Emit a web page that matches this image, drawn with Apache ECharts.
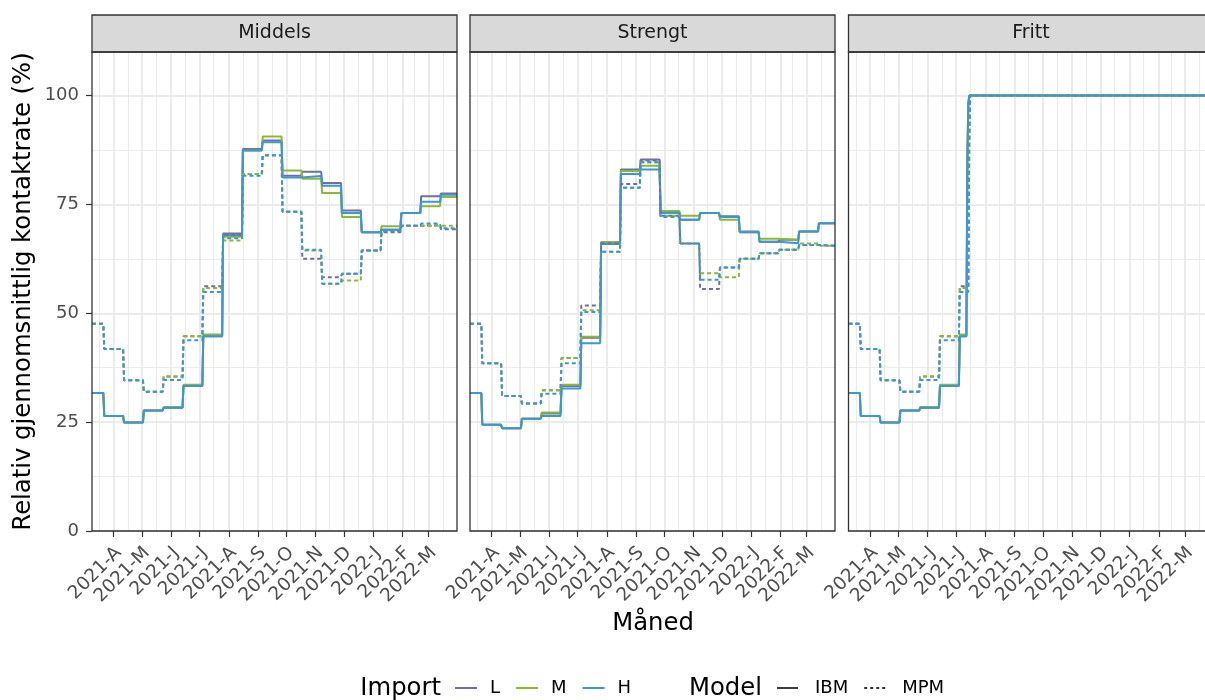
<!DOCTYPE html>
<html><head><meta charset="utf-8">
<script src="https://cdn.jsdelivr.net/npm/echarts@6/dist/echarts.min.js"></script>
<style>html,body{margin:0;padding:0;background:#fff}#c{width:1205px;height:700px}</style>
</head><body><div id="c"></div>
<script>
// ---------- data ----------
const panels = ['Middels', 'Strengt', 'Fritt'];
const imports = ['L', 'M', 'H'];
const models = ['IBM', 'MPM'];
const tickDates = ['2021-04-01','2021-05-01','2021-06-01','2021-07-01','2021-08-01','2021-09-01','2021-10-01','2021-11-01','2021-12-01','2022-01-01','2022-02-01','2022-03-01'];
const tickLabels = ['2021-A','2021-M','2021-J','2021-J','2021-A','2021-S','2021-O','2021-N','2021-D','2022-J','2022-F','2022-M'];
const minorDates = ['2021-03-17','2021-04-16','2021-05-16','2021-06-16','2021-07-16','2021-08-16','2021-09-16','2021-10-16','2021-11-16','2021-12-16','2022-01-16','2022-02-14','2022-03-16'];
const yTicks = [0, 25, 50, 75, 100];
const yMinor = 12.5;
const xStart = '2021-03-09';
const xEnd = '2022-03-31';

// start date of each constant period (value holds until the next start)
const segStart = ['2021-03-09','2021-03-22','2021-04-12','2021-05-03','2021-05-24','2021-06-14','2021-07-05','2021-07-26','2021-08-16','2021-09-06','2021-09-27','2021-10-18','2021-11-08','2021-11-29','2021-12-20','2022-01-10','2022-01-31','2022-02-21','2022-03-14'];

// Middels
const midIbmL = [31.7,26.4,24.9,27.7,28.3,33.3,44.7,68.3,87.7,89.7,81.6,82.5,79.9,73.6,68.6,69.2,73.0,76.9,77.5];
const midIbmM = [31.7,26.4,24.9,27.7,28.5,33.6,45.1,67.6,87.4,90.6,82.8,80.9,77.6,72.1,68.6,70.0,73.0,74.6,76.7];
const midIbmH = [31.7,26.4,24.9,27.7,28.3,33.3,44.7,68.0,87.4,89.3,81.2,81.5,79.3,73.0,68.6,69.2,73.0,75.6,77.2];
const midMpmL = [47.6,41.8,34.6,32.0,35.5,44.7,56.2,67.9,82.0,86.3,73.3,62.5,58.3,59.1,64.4,68.6,70.1,70.2,69.3];
const midMpmM = [47.6,41.8,34.6,32.0,35.5,44.7,55.8,66.7,82.0,86.3,73.3,64.4,56.8,57.5,64.4,68.9,70.1,70.1,70.1];
const midMpmH = [47.6,41.8,34.6,32.0,34.7,43.8,54.9,67.2,81.6,86.3,73.3,64.6,56.8,59.1,64.4,68.9,70.1,70.6,69.5];
// Strengt
const strIbmL = [31.7,24.4,23.6,25.8,27.0,33.3,44.4,66.3,83.0,85.3,73.1,71.5,73.0,72.3,68.8,66.4,66.9,68.8,70.7];
const strIbmM = [31.7,24.4,23.6,25.8,27.2,33.6,44.6,66.3,82.7,83.9,73.5,72.4,73.0,71.5,68.6,67.1,66.9,68.8,70.7];
const strIbmH = [31.7,24.4,23.6,25.8,26.4,32.7,43.1,65.9,82.0,83.0,73.1,71.5,73.0,72.1,68.6,66.4,66.1,68.8,70.7];
const strMpmL = [47.6,38.5,31.0,29.3,32.3,39.7,51.8,66.1,79.7,85.1,72.4,66.0,55.6,60.5,62.5,63.8,64.6,65.7,65.5];
const strMpmM = [47.6,38.5,31.0,29.3,32.3,39.7,50.7,64.1,78.8,84.7,72.4,66.0,59.2,58.3,62.5,63.8,64.6,66.0,65.5];
const strMpmH = [47.6,38.5,31.0,29.3,31.5,38.5,50.3,64.1,78.8,84.7,72.1,66.0,57.7,60.5,62.5,63.8,64.6,65.7,65.5];
// Fritt (own period starts: rapid rise to 100 in July)
const frtIbmStart = ['2021-03-09','2021-03-22','2021-04-12','2021-05-03','2021-05-24','2021-06-14','2021-07-05','2021-07-13','2021-07-14','2021-07-15'];
const frtIbmL = [31.7,26.4,24.9,27.7,28.3,33.3,44.7,85,98,100];
const frtIbmM = [31.7,26.4,24.9,27.7,28.5,33.6,45.1,82,97,100];
const frtIbmH = [31.7,26.4,24.9,27.7,28.3,33.3,44.7,85,98,100];
const frtMpmStart = ['2021-03-09','2021-03-22','2021-04-12','2021-05-03','2021-05-24','2021-06-14','2021-07-05','2021-07-15','2021-07-16'];
const frtMpmL = [47.6,41.8,34.6,32.0,35.5,44.7,56.2,92,100];
const frtMpmM = [47.6,41.8,34.6,32.0,35.5,44.7,55.8,90,100];
const frtMpmH = [47.6,41.8,34.6,32.0,34.7,43.8,54.9,90,100];

const panelData = [
  { IBM: { starts: segStart, L: midIbmL, M: midIbmM, H: midIbmH }, MPM: { starts: segStart, L: midMpmL, M: midMpmM, H: midMpmH } },
  { IBM: { starts: segStart, L: strIbmL, M: strIbmM, H: strIbmH }, MPM: { starts: segStart, L: strMpmL, M: strMpmM, H: strMpmH } },
  { IBM: { starts: frtIbmStart, L: frtIbmL, M: frtIbmM, H: frtIbmH }, MPM: { starts: frtMpmStart, L: frtMpmL, M: frtMpmM, H: frtMpmH } }
];

// ---------- styling ----------
const colors = { L: '#726E9E', M: '#8CB933', H: '#3B97D3' };
const lineTypes = { IBM: 'solid', MPM: [4, 3] };
const FONT = '"DejaVu Sans", sans-serif';
const TITLE = 24.3;
const DAY = 86400000;
const ts = s => Date.parse(s + 'T00:00:00Z');
const tickTs = tickDates.map(ts);
const minorTs = minorDates.map(ts);
// labels split over two axes so that ECharts' min/max overlap check never drops one
const labelsEven = tickTs.filter((t, i) => i % 2 === 0);
const labelsOdd = tickTs.filter((t, i) => i % 2 === 1);
const panelLeft = [92, 470, 848.5];
const panelW = 365, panelTop = 52, panelH = 479;

function stepPoints(starts, vals, end) {
  const pts = [];
  for (let i = 0; i < vals.length; i++) {
    const s = ts(starts[i]);
    const e = i + 1 < starts.length ? ts(starts[i + 1]) - DAY : ts(end);
    pts.push([s, vals[i]], [e, vals[i]]);
  }
  return pts;
}
function tickLabelFor(v) {
  let best = 0;
  tickTs.forEach((t, i) => { if (Math.abs(t - v) < Math.abs(tickTs[best] - v)) best = i; });
  return tickLabels[best];
}
const xLabelStyle = vals => ({
  show: true, customValues: vals, rotate: 45, margin: 14, verticalAlign: 'top', lineHeight: 14,
  showMinLabel: true, showMaxLabel: true, hideOverlap: false,
  fontSize: 18.5, fontFamily: FONT, color: '#4D4D4D', formatter: v => tickLabelFor(v)
});

const grid = [], xAxis = [], yAxis = [], series = [], graphic = [];
panels.forEach((name, p) => {
  grid.push({ left: panelLeft[p], top: panelTop, width: panelW, height: panelH, show: false, containLabel: false, outerBoundsMode: 'none' });
  // major x axis (dates as timestamps on a value scale)
  xAxis.push({
    type: 'value', gridIndex: p, position: 'bottom', min: ts(xStart), max: ts(xEnd),
    axisLine: { show: false },
    axisTick: { show: true, customValues: tickTs, length: 6, lineStyle: { color: '#333333', width: 1.2 } },
    axisLabel: xLabelStyle(labelsEven),
    splitLine: { show: true, lineStyle: { color: '#EBEBEB', width: 2 } }
  });
  // minor x grid (also carries the odd month labels)
  xAxis.push({
    type: 'value', gridIndex: p, position: 'bottom', offset: 0, min: ts(xStart), max: ts(xEnd),
    axisLine: { show: false }, axisTick: { show: false, customValues: minorTs },
    axisLabel: xLabelStyle(labelsOdd),
    splitLine: { show: true, lineStyle: { color: '#EBEBEB', width: 1.1 } }
  });
  // major y axis
  yAxis.push({
    type: 'value', gridIndex: p, position: 'left', min: 0, max: 110, interval: 25,
    axisLine: { show: false },
    axisTick: { show: p === 0, customValues: yTicks, length: 6, lineStyle: { color: '#333333', width: 1.2 } },
    axisLabel: { show: p === 0, customValues: yTicks, margin: 13, fontSize: 18, fontFamily: FONT, color: '#4D4D4D' },
    splitLine: { show: true, lineStyle: { color: '#EBEBEB', width: 2 } },
    name: p === 0 ? 'Relativ gjennomsnittlig kontaktrate (%)' : '',
    nameLocation: 'middle', nameGap: 56,
    nameTextStyle: { fontSize: TITLE, fontFamily: FONT, color: '#000000' }
  });
  // minor y grid
  yAxis.push({
    type: 'value', gridIndex: p, position: 'left', min: 0, max: 110, interval: yMinor,
    axisLine: { show: false }, axisTick: { show: false }, axisLabel: { show: false },
    splitLine: { show: true, lineStyle: { color: '#EBEBEB', width: 1.1 } }
  });

  models.forEach(m => {
    imports.forEach(k => {
      const d = panelData[p][m];
      series.push({
        type: 'line', name: k, xAxisIndex: 2 * p, yAxisIndex: 2 * p,
        data: stepPoints(d.starts, d[k], xEnd),
        showSymbol: false, symbol: 'none', silent: true, animation: false,
        color: colors[k], itemStyle: { color: colors[k] },
        lineStyle: { color: colors[k], width: 2, type: lineTypes[m] },
        z: 3
      });
    });
  });

  // strip
  graphic.push({ type: 'rect', shape: { x: panelLeft[p], y: 15, width: panelW, height: 37 }, style: { fill: '#D9D9D9', stroke: '#333333', lineWidth: 1.3 }, z: 90 });
  graphic.push({ type: 'text', x: panelLeft[p] + panelW / 2, y: 33.5, style: { text: name, align: 'center', verticalAlign: 'middle', fontSize: 19, fontFamily: FONT, fill: '#1A1A1A' }, z: 91 });
  // panel border
  graphic.push({ type: 'rect', shape: { x: panelLeft[p], y: panelTop, width: panelW, height: panelH }, style: { fill: null, stroke: '#333333', lineWidth: 1.3 }, z: 90 });
});

// legend dummy series for Model
series.push({ type: 'line', name: 'IBM', xAxisIndex: 0, yAxisIndex: 0, data: [], color: '#333333', lineStyle: { type: 'solid' }, symbol: 'none' });
series.push({ type: 'line', name: 'MPM', xAxisIndex: 0, yAxisIndex: 0, data: [], color: '#333333', lineStyle: { type: 'dotted' }, symbol: 'none' });

const solidIcon = 'path://M0,0H22V2H0Z';
const dotIcon = 'path://M0,0H3V2H0Z M6,0H9V2H6Z M12,0H15V2H12Z M18,0H21V2H18Z';

graphic.push({ type: 'text', x: 653, y: 624, style: { text: 'Måned', align: 'center', verticalAlign: 'middle', fontSize: TITLE, fontFamily: FONT, fill: '#000000' } });
graphic.push({ type: 'text', x: 441, y: 689, style: { text: 'Import', align: 'right', verticalAlign: 'middle', fontSize: TITLE, fontFamily: FONT, fill: '#000000' } });
graphic.push({ type: 'text', x: 689, y: 689, style: { text: 'Model', align: 'left', verticalAlign: 'middle', fontSize: TITLE, fontFamily: FONT, fill: '#000000' } });

const chart = echarts.init(document.getElementById('c'), null, { renderer: 'canvas' });
chart.setOption({
  backgroundColor: '#ffffff',
  animation: false,
  grid, xAxis, yAxis, series, graphic,
  legend: [
    {
      left: 455, top: 679, padding: 0, itemWidth: 22, itemHeight: 14, itemGap: 16, selectedMode: false,
      itemStyle: { borderWidth: 0 },
      textStyle: { fontSize: 18, fontFamily: FONT, color: '#000000', padding: [0, 0, 0, 8] },
      data: imports.map(k => ({ name: k, icon: solidIcon, itemStyle: { color: colors[k], borderWidth: 0 } }))
    },
    {
      left: 777, top: 679, padding: 0, itemWidth: 21, itemHeight: 14, itemGap: 16, selectedMode: false,
      itemStyle: { borderWidth: 0 },
      textStyle: { fontSize: 18, fontFamily: FONT, color: '#000000', padding: [0, 0, 0, 12] },
      data: [{ name: 'IBM', icon: solidIcon, itemStyle: { color: '#333333', borderWidth: 0 } },
             { name: 'MPM', icon: dotIcon, itemStyle: { color: '#333333', borderWidth: 0 } }]
    }
  ]
});
</script></body></html>
